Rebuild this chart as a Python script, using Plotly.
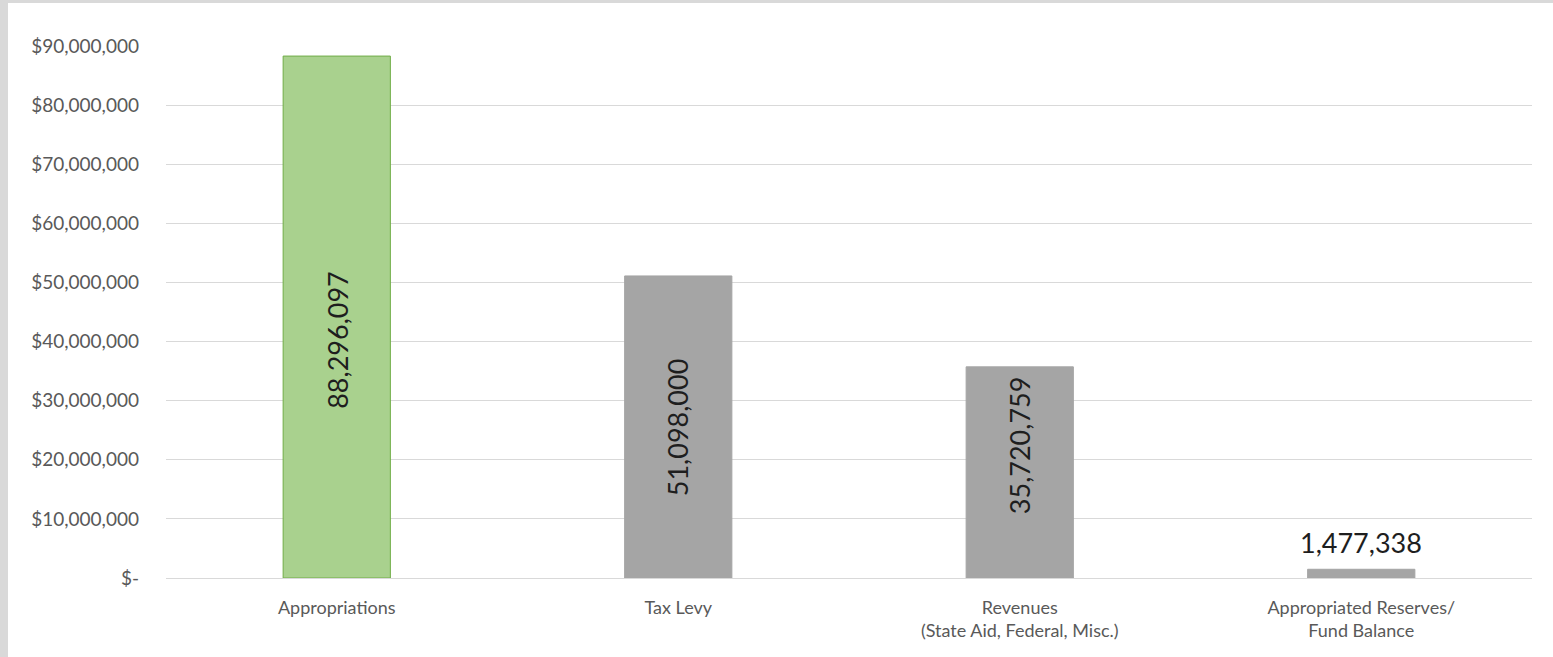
import plotly.graph_objects as go

categories = ["Appropriations", "Tax Levy", "Revenues<br>(State Aid, Federal, Misc.)",
              "Appropriated Reserves/<br>Fund Balance"]
values = [88296097, 51098000, 35720759, 1477338]
bar_colors = ["#A9D18E", "#A5A5A5", "#A5A5A5", "#A5A5A5"]
line_colors = ["#70AD47", "#A5A5A5", "#A5A5A5", "#A5A5A5"]
tick_vals = [0, 10e6, 20e6, 30e6, 40e6, 50e6, 60e6, 70e6, 80e6, 90e6]
tick_text = ["$-", "$10,000,000", "$20,000,000", "$30,000,000", "$40,000,000",
             "$50,000,000", "$60,000,000", "$70,000,000", "$80,000,000", "$90,000,000"]
# label placement style: rotated inside the bar (with a small nudge in px) or above it
label_inside = [True, True, True, False]
label_nudge = [-23, 0, 27, 8]

W, H = 1553, 657
ML, MR, MT, MB = 166, 21, 46, 79
FONT = "Lato"

fig = go.Figure()
fig.add_trace(go.Bar(
    x=categories, y=values,
    marker=dict(color=bar_colors, line=dict(color=line_colors, width=1)),
    width=0.314,
    hoverinfo="skip", showlegend=False,
))

annotations = []
for cat, val, inside, nudge in zip(categories, values, label_inside, label_nudge):
    if inside:
        annotations.append(dict(
            x=cat, y=val / 2, xref="x", yref="y", text=f"{val:,}",
            textangle=-90, showarrow=False, xanchor="center", yanchor="middle",
            yshift=nudge, font=dict(family=FONT, size=27, color="#1E1E1E")))
    else:
        annotations.append(dict(
            x=cat, y=val, xref="x", yref="y", text=f"{val:,}",
            showarrow=False, xanchor="center", yanchor="bottom",
            yshift=nudge, font=dict(family=FONT, size=27, color="#1E1E1E")))

pw = W - ML - MR
ph = H - MT - MB
top = 1 + MT / ph
left = -ML / pw
fig.update_layout(
    width=W, height=H,
    margin=dict(l=ML, r=MR, t=MT, b=MB, pad=0),
    paper_bgcolor="white", plot_bgcolor="white",
    font=dict(family=FONT, color="#595959", size=18),
    xaxis=dict(categoryorder="array", categoryarray=categories,
               showgrid=False, showline=False, zeroline=False,
               ticks="", tickfont=dict(size=18, color="#595959"),
               ticklabelstandoff=17),
    yaxis=dict(range=[0, 90e6], tickvals=tick_vals, ticktext=tick_text,
               showgrid=True, gridcolor="#D9D9D9", gridwidth=1,
               zeroline=True, zerolinecolor="#D9D9D9", zerolinewidth=1,
               showline=False, ticks="",
               tickfont=dict(size=19, color="#595959"),
               ticklabelstandoff=26),
    annotations=annotations,
    shapes=[
        dict(type="rect", xref="paper", yref="paper",
             x0=left, x1=1 + MR / pw, y0=top - 3 / ph, y1=top,
             fillcolor="#D9D9D9", line=dict(width=0), layer="below"),
        dict(type="rect", xref="paper", yref="paper",
             x0=left, x1=left + 8 / pw, y0=-MB / ph, y1=top,
             fillcolor="#D9D9D9", line=dict(width=0), layer="below"),
    ],
)

fig.write_html("out.html", config={"displayModeBar": False},
               post_script="document.body.style.margin='0';")
